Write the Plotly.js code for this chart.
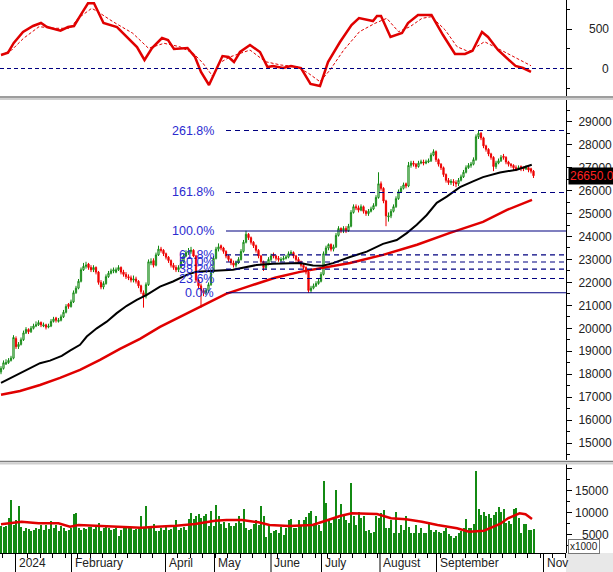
<!DOCTYPE html>
<html><head><meta charset="utf-8">
<script src="https://cdn.plot.ly/plotly-3.0.1.min.js"></script>
<style>html,body{margin:0;padding:0;background:#fff;}#chart{width:613px;height:572px;}</style>
</head><body><div id="chart"></div>
<script>
// ---- Price candles (one per trading day) ----
const opens = [18100,18250,18450,18500,18600,18700,19550,19200,19300,19500,19800,19950,19850,20000,20100,20150,20250,20100,20150,20050,20100,20300,20450,20300,20350,20500,20700,21050,20950,21150,21550,21750,22050,22550,22700,22800,22650,22550,22650,22450,22000,21800,21950,22250,22400,22500,22450,22550,22650,22450,22350,22250,22200,22100,22150,22050,21850,21550,21400,21900,22850,22950,22750,23200,23450,23400,23250,23100,22950,22750,22650,22550,22650,22900,23150,23300,23350,23400,23150,22100,21850,21650,21550,21650,21900,22450,23050,23450,23600,23500,23350,23150,23000,22850,22750,22850,23000,23350,23750,24100,23950,23750,23600,23400,23150,22900,22650,22800,23000,23200,23150,23050,22950,23000,23050,23100,23250,23300,23150,23000,22900,22750,22650,22450,21650,21750,21850,21950,22050,22350,23250,23500,23650,23450,23550,24050,24350,24250,24350,24250,24450,25050,25300,25250,25150,25300,25100,25000,25100,25200,25350,25700,26300,26100,25550,24850,24900,25100,25300,25650,25950,26100,26300,26200,27100,27200,27150,27050,27200,27250,27200,27250,27300,27550,27700,27350,27150,27000,26700,26450,26350,26400,26350,26300,26450,26600,26800,27000,27100,27150,27350,28350,28500,28300,27950,27800,27600,27450,27050,27200,27300,27500,27450,27250,27150,27100,27000,26950,27050,27000,26950,27000,26950,26850];
const highs = [18350,18600,18650,18700,18800,19700,19650,19400,19600,19900,20050,20000,20100,20200,20300,20350,20300,20250,20200,20200,20400,20500,20500,20450,20600,20800,21050,21100,21250,21650,21850,22150,22650,22850,22900,22850,22750,22750,22700,22500,22100,22050,22350,22500,22600,22650,22650,22750,22700,22550,22450,22350,22300,22300,22250,22100,21900,21650,22000,23000,23050,23050,23300,23600,23550,23450,23300,23150,23000,22850,22750,22750,23000,23250,23400,23500,23550,23450,23200,22150,21950,21750,21750,22000,22550,23150,23550,23700,23650,23550,23400,23200,23050,22950,22950,23100,23450,23850,24250,24150,24000,23800,23650,23450,23200,22950,22900,23100,23250,23300,23200,23150,23100,23150,23200,23350,23400,23350,23200,23100,22950,22850,22700,22500,21850,21950,22050,22150,22450,23350,23600,23700,23700,23650,24150,24450,24400,24450,24450,24550,25150,25400,25400,25350,25400,25350,25150,25200,25300,25450,25800,26800,26400,26150,25600,25050,25200,25400,25750,26050,26200,26350,26350,27250,27300,27300,27200,27300,27350,27350,27350,27400,27650,27800,27750,27400,27200,27050,26750,26550,26500,26500,26450,26550,26700,26900,27100,27200,27250,27450,28450,28600,28550,28350,28000,27850,27650,27500,27300,27400,27550,27600,27500,27300,27200,27150,27100,27100,27100,27050,27100,27050,27000,26900];
const lows = [18000,18200,18400,18450,18550,18650,19100,19100,19250,19450,19750,19750,19800,19950,20050,20100,20050,20050,19950,20000,20050,20250,20250,20250,20300,20450,20650,20850,20900,21100,21500,21700,22000,22500,22600,22550,22450,22450,22350,21900,21700,21700,21900,22200,22350,22400,22400,22500,22350,22250,22150,22100,22000,22000,21950,21750,21500,20900,21300,21850,22750,22650,22700,23150,23300,23150,23000,22850,22650,22550,22450,22450,22600,22850,23100,23200,23250,23100,22000,21700,20900,21400,21450,21550,21850,22400,23000,23350,23400,23250,23050,22900,22750,22650,22650,22800,22950,23300,23700,23850,23650,23500,23300,23050,22800,22500,22550,22750,22900,23050,22950,22900,22900,22950,23000,23050,23200,23050,22900,22800,22650,22550,22350,21550,21550,21700,21800,21900,22000,22300,23200,23400,23350,23350,23500,24000,24150,24150,24150,24200,24400,25000,25150,25050,25100,25000,24900,24900,25050,25150,25300,25650,26000,25450,24450,24650,24800,25050,25250,25600,25900,26050,26100,26150,27000,27050,26950,27000,27150,27100,27150,27200,27250,27500,27250,27050,26900,26600,26350,26250,26250,26200,26150,26200,26400,26550,26750,26950,27000,27100,27300,28250,28200,27850,27700,27500,27350,26850,26950,27150,27250,27350,27150,27050,27000,26900,26850,26900,26850,26850,26900,26800,26750,26550];
const closes = [18250,18500,18500,18600,18700,19600,19200,19300,19500,19800,19950,19850,20000,20100,20150,20250,20150,20150,20050,20100,20300,20400,20350,20350,20500,20700,20950,20950,21150,21550,21750,22050,22550,22700,22750,22650,22550,22650,22450,22000,21800,21950,22250,22400,22500,22550,22550,22650,22450,22350,22250,22200,22100,22150,22050,21850,21600,21400,21900,22900,22900,22750,23200,23450,23400,23250,23100,22950,22750,22650,22550,22650,22900,23150,23300,23350,23400,23150,22100,21850,21650,21550,21650,21900,22450,23050,23450,23550,23500,23350,23150,23000,22850,22750,22850,23000,23350,23750,24100,23950,23750,23600,23400,23150,22900,22650,22800,23000,23150,23150,23050,23000,23000,23050,23100,23250,23300,23150,23000,22900,22750,22650,22450,21650,21750,21850,21950,22050,22350,23250,23500,23650,23450,23550,24050,24350,24250,24350,24250,24450,25050,25300,25250,25150,25300,25100,25000,25100,25200,25350,25700,26300,26100,25550,24900,24900,25100,25300,25650,25950,26100,26250,26200,27100,27200,27150,27050,27200,27250,27200,27250,27300,27550,27700,27350,27150,27000,26700,26450,26350,26400,26350,26300,26450,26600,26800,27000,27100,27150,27350,28350,28500,28300,27950,27800,27600,27450,27050,27200,27300,27450,27450,27250,27150,27100,27000,26950,27000,27000,26950,27000,26900,26850,26650];
// ---- Volume (x1000) ----
const volumes = [7000,6800,7000,8800,13000,7300,8400,11600,6800,5800,6500,6400,5800,6100,6600,6400,7300,6100,7200,6400,8200,6600,7200,5800,7000,6500,6000,6100,6500,9800,10000,6500,6100,6500,6300,6800,6800,6400,7000,7700,5800,6500,6800,6500,6100,6400,6500,4800,6100,6800,7000,6800,6900,6100,6400,6500,9200,6500,11600,6900,6500,7500,6000,5900,6500,6200,6800,6200,6300,6800,8400,6100,6600,6800,6100,8600,10000,8600,9200,9800,8800,9200,9800,7000,10500,7000,11800,9300,7500,7900,6500,7700,7000,7000,7700,9300,7700,10800,6500,6200,6300,7500,8300,7300,11600,9200,4600,7000,5400,5800,6100,5500,6800,5000,6500,8400,8600,6600,6600,8300,7000,8300,9000,10000,10500,7300,9200,7300,5800,17300,12300,8400,7700,9000,15200,8600,12000,9200,8400,7800,16900,9200,7300,10300,8800,9200,5800,6100,5500,5600,9200,8800,10000,10700,6600,6600,8400,5500,10300,5500,7300,6200,9200,6900,5500,5500,7300,5500,6600,5500,5500,7700,6100,5600,6100,5600,5500,6000,6600,5300,4800,4400,4800,5400,5900,6500,8600,6500,6500,7400,19500,10900,9500,10300,9200,9700,8900,9500,10300,11400,10300,11000,7700,8200,7400,10900,11200,8800,5400,7400,7400,6100,6100,6400];
const volMaXs = [0,4.3,8.2,15,23,27.6,31,40,46.4,56,62,70,77.6,85.6,90.2,96.4,103,107.4,115.2,124.6,130.8,135.6,140.3,148,150.4,156,162,168.4,174.6,182.4,187.2,193.2,199.6,202.8,207.4,209.8,212.4];
const volMaVals = [7430,7800,8020,7660,7660,6890,7270,7050,6890,6660,6890,7110,7500,8250,8410,8410,7890,7270,7050,7270,8400,9320,9930,9930,9770,8800,8570,8020,7270,6520,5750,5980,7500,8800,9930,9700,8640];
// ---- Moving averages on price ----
const maBlackX = [0,3.6,7.6,11.6,15.6,19.6,24.3,27.6,31.6,34.3,38.3,42.3,46.3,50.3,54.3,58.3,63.6,68.8,74.3,78.3,86.3,92.8,102.3,108.8,119.6,124.8,128.8,132.8,139.6,146.3,152.8,158.3,162.3,166.3,170.3,174.3,178.3,183.6,188.8,192.8,199.6,206.3,212.3];
const maBlackY = [17620,17820,18040,18260,18480,18590,18800,19030,19280,19640,20000,20290,20660,20980,21240,21460,21820,22040,22330,22470,22520,22550,22760,22810,22850,22740,22730,22840,23110,23340,23680,23850,24150,24510,24940,25470,25740,26150,26400,26590,26790,26910,27130];
const maRedX = [0,7.6,15.6,23.6,31.6,39.6,47.6,55.6,63.6,71.6,79.6,90,99.6,109.6,119.6,128.8,139.6,152.8,166.4,179.6,192.8,202.4,212.4];
const maRedY = [17100,17270,17530,17840,18190,18620,19100,19540,20060,20500,20930,21500,21850,22200,22460,22630,22850,23200,23640,24160,24640,25160,25600];
// ---- Oscillator (top panel) ----
const oscX = [0,2.8,5.1,8.8,12.8,16,18.4,23.8,26.8,29.2,32.4,34.8,37.2,41,46.4,50.4,54.4,57.4,60.4,64.4,66.8,69.2,74.6,77.6,80,83.2,86.4,88.6,91,93.2,95.6,99.6,103.6,106.6,108.8,112.8,116,120,123.8,127.6,130.8,135.6,140.2,143.2,148.8,150.4,152,155.8,160.4,162.8,166.8,169.2,172.2,176.8,181.6,185.6,188.6,192.4,194.8,198.8,202,205.8,208.8,212];
const oscVal = [171,200,323,462,538,576,525,478,525,538,703,825,825,576,525,399,272,108,259,386,361,247,259,146,-44,-209,19,158,146,82,209,297,209,19,32,6,32,6,-196,-222,82,335,551,639,601,665,665,399,449,576,677,677,677,424,184,184,225,462,399,234,146,32,6,-44];
const sigX = [0,4.3,9,15.2,21.5,27.7,30.8,36.3,38.7,44.8,52.7,59,65.2,71.5,77,80.8,84.8,87.1,91.8,99.6,105.8,112,118.4,123,127.6,131.6,137.1,143.4,149.6,154.3,159,163.6,168.4,172.2,177.7,182.4,187.1,193.4,201.2,207.4,212];
const sigVal = [171,234,382,529,509,509,635,762,719,592,446,256,319,276,192,66,-104,66,149,234,86,44,23,-61,-167,-19,234,466,572,635,466,529,635,656,487,276,213,339,213,108,35];
// ---- Fibonacci retracement ----
const fibLabels = ['261.8%','161.8%','100.0%','61.8%','50.0%','38.2%','23.6%','0.0%'];
const fibLevels = [28620,25920,24240,23200,22890,22580,22170,21550];
const fibSolid  = [false,false,true,false,false,false,false,true];
// ---- Axis ticks ----
const monthLabels = ['2024','February','April','May','June','July','August','September','Nov'];
const monthPos = [5.8,28.2,65.8,85.4,108,128.2,151.6,174.2,217];
const oscTicks = [0,500];
const volTicks = [5000,10000,15000];
const lastPrice = 26650;

const barIdx = closes.map((c,i)=>i);
const W = 566, H = 553;
const px = v => v / W;           // horizontal pixel -> paper
const py = v => (H - v) / H;     // vertical pixel -> paper
const FONT = 'Arial, "Liberation Sans", sans-serif';

const traces = [
  {type:'scatter',mode:'lines',x:oscX,y:oscVal,xaxis:'x',yaxis:'y',line:{color:'#e00000',width:2.5},hoverinfo:'skip'},
  {type:'scatter',mode:'lines',x:sigX,y:sigVal,xaxis:'x',yaxis:'y',line:{color:'#e00000',width:1,dash:'3px,2px'},hoverinfo:'skip'},
  {type:'candlestick',x:barIdx,open:opens,high:highs,low:lows,close:closes,xaxis:'x',yaxis:'y2',
    increasing:{line:{color:'#118811',width:1},fillcolor:'#ffffff'},
    decreasing:{line:{color:'#ee0000',width:1},fillcolor:'#ee0000'},whiskerwidth:0,hoverinfo:'skip'},
  {type:'scatter',mode:'lines',x:maRedX,y:maRedY,xaxis:'x',yaxis:'y2',line:{color:'#e00000',width:2.5},hoverinfo:'skip'},
  {type:'scatter',mode:'lines',x:maBlackX,y:maBlackY,xaxis:'x',yaxis:'y2',line:{color:'#000000',width:2},hoverinfo:'skip'},
  {type:'bar',x:barIdx,y:volumes,xaxis:'x',yaxis:'y3',marker:{color:'#138a13',line:{width:0}},width:0.8,hoverinfo:'skip'},
  {type:'scatter',mode:'lines',x:volMaXs,y:volMaVals,xaxis:'x',yaxis:'y3',line:{color:'#e00000',width:2.5},hoverinfo:'skip'}
];

const shapes = [];
const annotations = [];
shapes.push({type:'line',xref:'paper',yref:'y',x0:0,x1:1,y0:0,y1:0,line:{color:'#000080',width:1.2,dash:'4px,3px'}});
fibLevels.forEach((lv,i)=>{
  shapes.push({type:'line',xref:'paper',yref:'y2',x0:px(226),x1:1,y0:lv,y1:lv,
    line:{color:'#000080',width:1.1,dash:fibSolid[i]?'solid':'5px,4px'}});
  annotations.push({xref:'paper',yref:'y2',x:px(216),y:lv,xanchor:'right',yanchor:'middle',showarrow:false,
    text:fibLabels[i],font:{family:FONT,size:12.5,color:'#2b2bd0'}});
});
[[97,'#7d7d7d',1.5],[99,'#cfcfcf',2],[461.5,'#7d7d7d',1.5],[463.5,'#cfcfcf',2]].forEach(s=>{
  shapes.push({type:'line',xref:'paper',yref:'paper',x0:0,x1:613/W,y0:py(s[0]),y1:py(s[0]),line:{color:s[1],width:s[2]}});
});
shapes.push({type:'rect',xref:'paper',yref:'paper',x0:1,x1:613/W,y0:0,y1:py(572),fillcolor:'#e8e8e8',line:{width:0}});
monthPos.forEach((p,i)=>{
  shapes.push({type:'line',xref:'x',yref:'paper',x0:p,x1:p,y0:0,y1:py(572),line:{color:'#000',width:1}});
  annotations.push({xref:'x',yref:'paper',x:p,y:py(563),xanchor:'left',yanchor:'middle',xshift:1,showarrow:false,
    text:monthLabels[i],font:{family:FONT,size:12,color:'#222'}});
});
oscTicks.forEach(t=>annotations.push({xref:'paper',yref:'y',x:611/W,y:t,xanchor:'right',yanchor:'middle',showarrow:false,
  text:String(t),font:{family:FONT,size:12,color:'#222'}}));
volTicks.forEach(t=>annotations.push({xref:'paper',yref:'y3',x:611/W,y:t,xanchor:'right',yanchor:'middle',showarrow:false,
  text:String(t),font:{family:FONT,size:12,color:'#222'}}));
annotations.push({xref:'paper',yref:'y2',x:568/W,y:lastPrice,xanchor:'left',yanchor:'middle',showarrow:false,
  text:lastPrice.toFixed(2),bgcolor:'#000',borderpad:1,font:{family:FONT,size:12,color:'#ff2020'}});
annotations.push({xref:'paper',yref:'paper',x:568/W,y:py(546),xanchor:'left',yanchor:'middle',showarrow:false,
  text:'x1000',bgcolor:'#fff',bordercolor:'#777',borderwidth:1,borderpad:1,font:{family:FONT,size:10,color:'#222'}});

const axisCommon = {side:'right',anchor:'x',showline:true,linecolor:'#000',linewidth:1,ticks:'outside',ticklen:5,
  tickcolor:'#000',showgrid:false,zeroline:false,fixedrange:true};
const layout = {
  width:613,height:572,margin:{l:0,r:613-W,t:0,b:572-H},
  paper_bgcolor:'#fff',plot_bgcolor:'#fff',showlegend:false,bargap:0,
  font:{family:FONT,size:12,color:'#222'},
  xaxis:{domain:[0,1],range:[-0.4,(W-1)/2.5],anchor:'y3',showline:true,linecolor:'#000',showgrid:false,zeroline:false,
    tickmode:'linear',tick0:0.6,dtick:5,ticks:'outside',ticklen:4,tickcolor:'#000',showticklabels:false,
    rangeslider:{visible:false},fixedrange:true},
  yaxis:Object.assign({},axisCommon,{domain:[py(96),1],range:[-348,867],tickmode:'linear',tick0:0,dtick:500,
    showticklabels:false,minor:{ticks:'outside',ticklen:3,tickcolor:'#000',dtick:250}}),
  yaxis2:Object.assign({},axisCommon,{domain:[py(460),py(100)],range:[14260,29950],tickmode:'linear',tick0:0,dtick:1000,
    showticklabels:true,tickformat:'d',ticklabelstandoff:4,tickfont:{family:FONT,size:12,color:'#222'},
    minor:{ticks:'outside',ticklen:3,tickcolor:'#000',dtick:500}}),
  yaxis3:Object.assign({},axisCommon,{domain:[0,py(464)],range:[900,21130],tickmode:'linear',tick0:0,dtick:5000,
    showticklabels:false,minor:{ticks:'outside',ticklen:3,tickcolor:'#000',dtick:2500}}),
  shapes:shapes,annotations:annotations
};
Plotly.newPlot('chart',traces,layout,{staticPlot:true,displayModeBar:false});
</script>
</body></html>
